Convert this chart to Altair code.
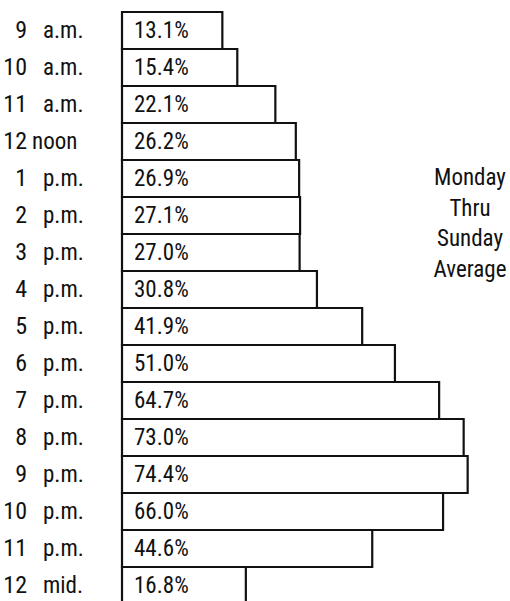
import altair as alt
import pandas as pd

hours = ["9", "10", "11", "12", "1", "2", "3", "4", "5", "6", "7", "8", "9", "10", "11", "12"]
periods = ["a.m.", "a.m.", "a.m.", "noon", "p.m.", "p.m.", "p.m.", "p.m.", "p.m.", "p.m.",
           "p.m.", "p.m.", "p.m.", "p.m.", "p.m.", "mid."]
shares = [13.1, 15.4, 22.1, 26.2, 26.9, 27.1, 27.0, 30.8, 41.9, 51.0, 64.7, 73.0, 74.4, 66.0, 44.6, 16.8]
note_lines = ["Monday", "Thru", "Sunday", "Average"]

df = pd.DataFrame({
    "row": list(range(len(shares))),
    "hour": hours,
    "period": periods,
    "share": shares,
})
df["label"] = [f"{v:.1f}%" for v in shares]

FONT = "Roboto Condensed, Liberation Sans Narrow, DejaVu Sans Condensed, sans-serif"
INK = "#111111"
FS = 23

y_enc = alt.Y("row:O", scale=alt.Scale(paddingInner=0, paddingOuter=0, range=[0, 592]), axis=None)
# the original drawing spaces bar lengths like a square-root scale
x_scale = alt.Scale(type="sqrt", domain=[0, 100], range=[45, 535], nice=False, zero=False)

base = alt.Chart(df)

bars = base.mark_bar(fill="white", stroke=INK, strokeWidth=2.2, strokeJoin="miter").encode(
    x=alt.X("share:Q", scale=x_scale, axis=None),
    x2=alt.datum(2.47),
    y=y_enc,
)

pct = base.mark_text(align="left", baseline="middle", font=FONT, fontSize=FS, color=INK).encode(
    x=alt.value(134),
    y=y_enc,
    text="label:N",
)

hour_txt = base.mark_text(align="right", baseline="middle", font=FONT, fontSize=FS + 1, color=INK).encode(
    x=alt.value(27),
    y=y_enc,
    text="hour:N",
)

period_txt = base.transform_filter("datum.period != 'noon'").mark_text(
    align="left", baseline="middle", font=FONT, fontSize=FS, color=INK
).encode(
    x=alt.value(43),
    y=y_enc,
    text="period:N",
)

noon_txt = base.transform_filter("datum.period == 'noon'").mark_text(
    align="left", baseline="middle", font=FONT, fontSize=FS, color=INK
).encode(
    x=alt.value(32),
    y=y_enc,
    text="period:N",
)

note = alt.Chart(pd.DataFrame({"note": ["\n".join(note_lines)]})).mark_text(
    align="center", baseline="middle", font=FONT, fontSize=FS, color=INK,
    lineBreak="\n", lineHeight=30.5
).encode(
    x=alt.value(470),
    y=alt.value(166),
    text="note:N",
)

chart = alt.layer(bars, pct, hour_txt, period_txt, noon_txt, note).properties(
    width=510,
    height=589,
    padding={"left": 0, "right": 0, "top": 12, "bottom": 0},
    autosize=alt.AutoSizeParams(type="none"),
    background="white",
).configure_view(stroke=None)

chart.save("out.html", embed_options={"renderer": "svg", "actions": False})
